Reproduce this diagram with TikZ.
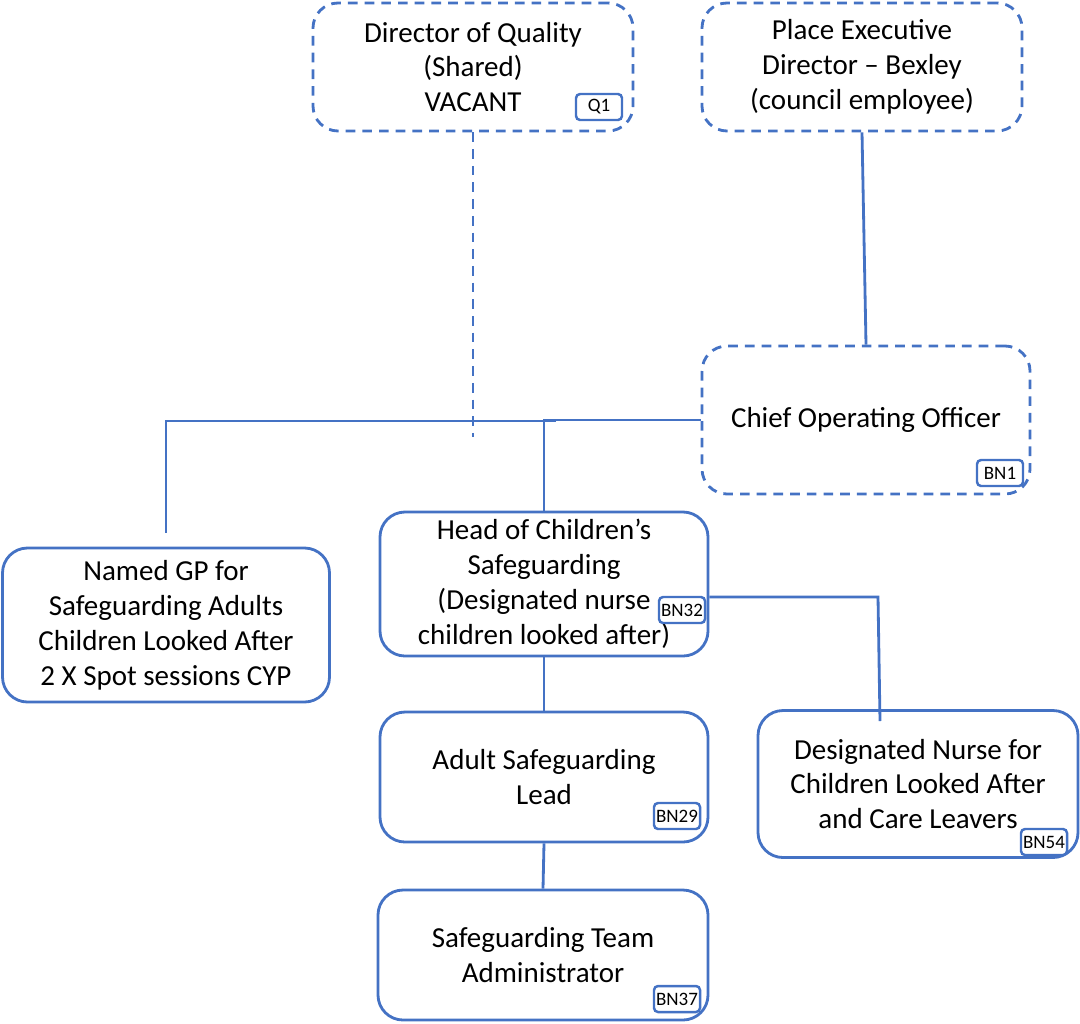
\documentclass[tikz,border=0pt]{standalone}
\usepackage{fontspec}
\setmainfont{Carlito}
\definecolor{boxblue}{HTML}{4472C4}
\tikzset{
  box/.style={draw=boxblue, line width=1.6pt, rounded corners=5mm, align=center,
    font=\fontsize{16.5}{19.9}\selectfont, inner sep=0pt},
  dashbox/.style={box, dash pattern=on 5.5pt off 4pt},
  tag/.style={draw=boxblue, fill=white, line width=1.4pt, rounded corners=2.3pt,
    font=\fontsize{10.8}{12}\selectfont, minimum width=9.2mm, minimum height=5.2mm, inner sep=1.2pt},
  link/.style={draw=boxblue, line width=1.6pt},
}
\begin{document}
\begin{tikzpicture}[x=0.2mm, y=-0.2mm]
        \useasboundingbox (0,0) rectangle (1080,1023);

        % 上层（虚线框）
        \node[dashbox, minimum width=64mm, minimum height=25.6mm] (DQ) at (473,67) {Director of Quality\\(Shared)\\VACANT};
        \node[dashbox, minimum width=64mm, minimum height=25.6mm] (PED) at (862,67) {Place Executive\\Director -- Bexley\\(council employee)};
        \node[dashbox, minimum width=65.6mm, minimum height=29.6mm] (COO) at (866,420) {Chief Operating Officer};

        % 下层（实线框）
        \node[box, minimum width=65.4mm, minimum height=30.8mm] (GP) at (166,625) {Named GP for\\Safeguarding Adults\\Children Looked After\\2 X Spot sessions CYP};
        \node[box, minimum width=65.6mm, minimum height=28.8mm] (HCS) at (544,584) {Head of Children’s\\Safeguarding\\(Designated nurse\\children looked after)};
        \node[box, minimum width=65.6mm, minimum height=26mm] (ASL) at (544,777) {Adult Safeguarding\\Lead};
        \node[box, minimum width=64mm, minimum height=29.4mm] (DN) at (918,784) {Designated Nurse for\\Children Looked After\\and Care Leavers};
        \node[box, minimum width=66mm, minimum height=26mm] (STA) at (543,955) {Safeguarding Team\\Administrator};

        % 编号
        \node[tag] (Q1) at (599,107) {Q1};
        \node[tag] (BN1) at (1000,473) {BN1};
        \node[tag] (BN32) at (682,610) {BN32};
        \node[tag] (BN29) at (677,816) {BN29};
        \node[tag] (BN54) at (1044,842) {BN54};
        \node[tag] (BN37) at (677,999) {BN37};

        % 连线
        \coordinate (dqE) at (472,437);
        \coordinate (gpJ) at (556,421);
        \coordinate (gpE) at (166,533);
        \coordinate (dnJ) at (878,597);
        \coordinate (dnE) at (880,721);
        \draw[link, dash pattern=on 5.5pt off 4pt] (DQ.south) -- (DQ.south |- dqE);
        \draw[link] (PED.south) -- (COO.north);
        \draw[link] (COO.west) -- (HCS.north |- COO.west) -- (HCS.north);
        \draw[link] (gpJ) -- (gpE |- gpJ) -- (gpE);
        \draw[link] (HCS.south) -- (ASL.north);
        \draw[link] (ASL.south) -- (STA.north);
        \draw[link] (HCS.east |- dnJ) -- (dnJ) -- (dnE);
\end{tikzpicture}
\end{document}
